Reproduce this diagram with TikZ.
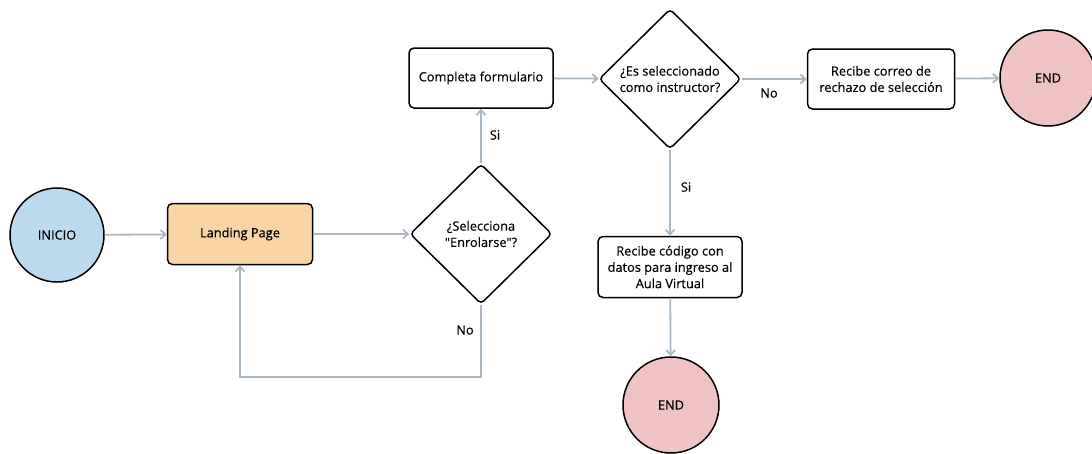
\documentclass[tikz,border=0pt]{standalone}
\usepackage{fontspec}
\setmainfont{Open Sans}[Ligatures=TeXOff,FakeBold=0.4]
\usetikzlibrary{shapes.geometric}
\usetikzlibrary{arrows.meta}

\definecolor{linkgray}{HTML}{A9B8C4}
\definecolor{startblue}{HTML}{BBD9EF}
\definecolor{pageorange}{HTML}{F9D5A6}
\definecolor{endpink}{HTML}{EFC3C4}

\tikzset{
    box/.style={draw=black,line width=1.5pt,rounded corners=5pt,minimum width=145pt,minimum height=61pt,align=center,inner sep=2pt},
    dec/.style={draw=black,line width=1.5pt,diamond,rounded corners=4pt,minimum width=142pt,minimum height=140pt,align=center,inner sep=0pt},
    term/.style={draw=black,line width=1.5pt,circle,minimum size=94pt,inner sep=0pt},
    link/.style={draw=linkgray,line width=1.8pt,-{Straight Barb[length=5pt,width=9pt,line width=1.8pt]}},
    lbl/.style={font=\fontsize{12.8}{15}\selectfont}
}

\begin{document}
\begin{tikzpicture}[x=1pt,y=-1pt,font=\fontsize{12.8}{16.3}\selectfont]
            \useasboundingbox (0,0) rectangle (1092,453);

            \node[term,fill=startblue] (inicio) at (57,235) {INICIO};
            \node[box,fill=pageorange] (landing) at (240,234) {Landing Page};
            \node[dec] (enrol) at (481,234) {¿Selecciona\\"Enrolarse"?};
            \node[box,minimum width=144pt,minimum height=60pt] (form) at (481,78) {Completa formulario};
            \node[dec] (instr) at (670,79) {¿Es seleccionado\\como instructor?};
            \node[box,minimum width=147pt,minimum height=60pt] (rechazo) at (881,79) {Recibe correo de\\rechazo de selección};
            \node[term,fill=endpink,minimum size=96pt] (endA) at (1048,78) {END};
            \node[box,minimum width=144pt] (codigo) at (670,267) {Recibe código con\\datos para ingreso al\\Aula Virtual};
            \node[term,fill=endpink,minimum size=96pt] (endB) at (671,405) {END};

            \draw[link] (inicio) -- (landing);
            \draw[link] (landing) -- (enrol);
            \draw[link] (enrol.north) -- (form.south);
            \draw[link] (enrol.south) -- (enrol.south |- 0,377) -| (landing.south);
            \draw[link] (form) -- (instr);
            \draw[link] (instr.east) -- (rechazo.west);
            \draw[link] (rechazo) -- (endA);
            \draw[link] (instr.south) -- (codigo.north);
            \draw[link] (codigo) -- (endB);

            \node[lbl] (siA) at (495,135) {Si};
            \node[lbl] (noA) at (465,330) {No};
            \node[lbl] (noB) at (769,93) {No};
            \node[lbl] (siB) at (686,187) {Si};
        \end{tikzpicture}
\end{document}
